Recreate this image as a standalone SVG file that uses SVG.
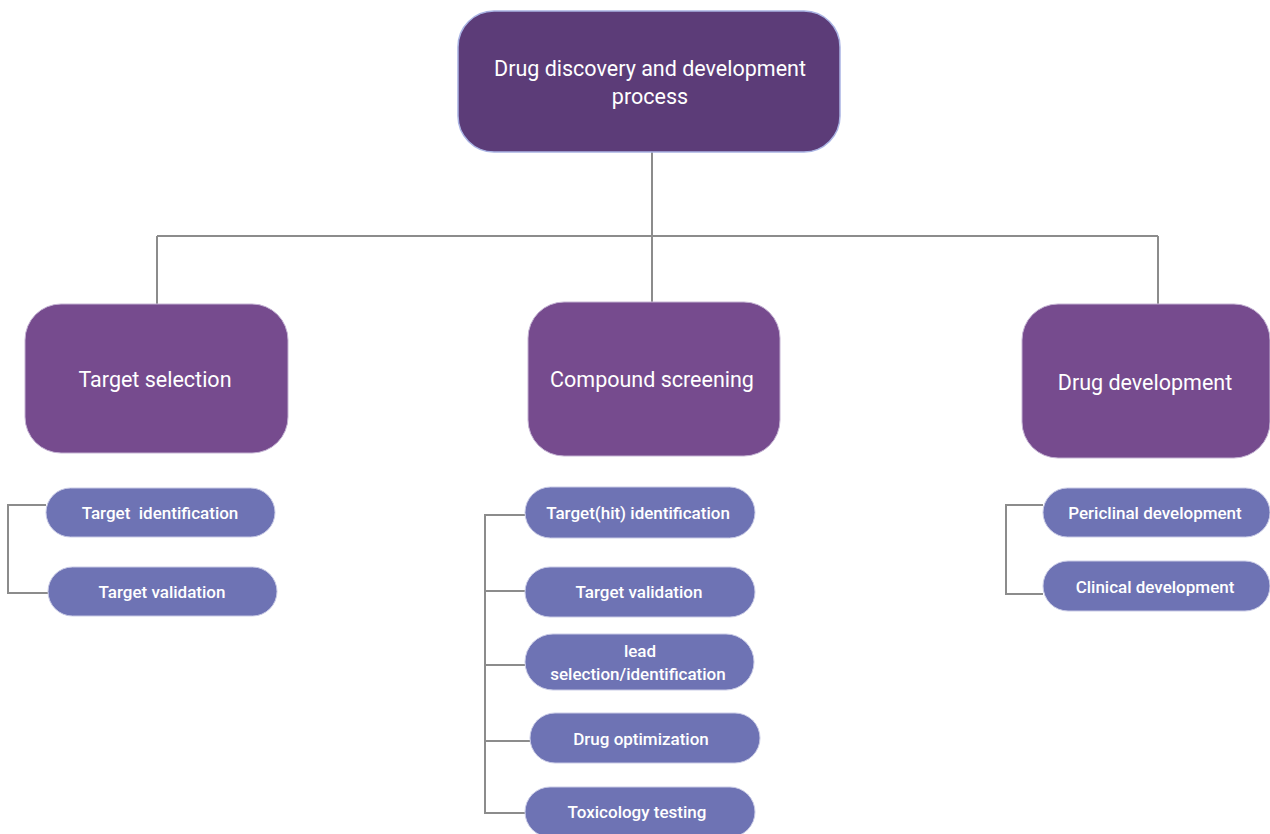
<svg xmlns="http://www.w3.org/2000/svg" width="1270" height="834" viewBox="0 0 1270 834">
<style>
text{font-family:Roboto,"Liberation Sans",sans-serif;fill:#ffffff;text-anchor:middle;dominant-baseline:central;white-space:pre}
.root{fill:#5c3c78;stroke:#a9b3e3;stroke-width:1.5}
.stage{fill:#764b8e;stroke:#c4b3d3;stroke-width:1}
.sub{fill:#6e73b4;stroke:#c9cbe6;stroke-width:1}
.big{font-size:21.5px;font-weight:400}
.small{font-size:17px;font-weight:500}
.conn{fill:none;stroke:#8c8c8c;stroke-width:2}
</style>
<rect width="1270" height="834" fill="#ffffff"/>
<g id="connectors">
<path class="conn" d="M652 152V236M157 236H1158M157 236V304M652 236V302M1158 236V304"/>
<path class="conn" d="M46 505H8V593H48"/>
<path class="conn" d="M525 515H485V813H525M485 591H525M485 665H525M485 741H530"/>
<path class="conn" d="M1043 505H1006V594H1043"/>
</g>
<g id="root">
<rect class="root" x="458" y="11" width="382" height="141" rx="36"/>
<text class="big" x="650" y="68">Drug discovery and development</text>
<text class="big" x="650" y="96">process</text>
</g>
<g id="target-selection">
<rect class="stage" x="25" y="304" width="263" height="149" rx="36"/>
<text class="big" x="155" y="379">Target selection</text>
</g>
<g id="compound-screening">
<rect class="stage" x="528" y="302" width="252" height="154" rx="36"/>
<text class="big" x="652" y="379">Compound screening</text>
</g>
<g id="drug-development">
<rect class="stage" x="1022" y="304" width="248" height="154" rx="36"/>
<text class="big" x="1145" y="382">Drug development</text>
</g>
<g id="target-identification">
<rect class="sub" x="46" y="488" width="229" height="49" rx="24.5"/>
<text class="small" x="160" y="513">Target  identification</text>
</g>
<g id="target-validation-1">
<rect class="sub" x="48" y="567" width="229" height="49" rx="24.5"/>
<text class="small" x="162" y="592">Target validation</text>
</g>
<g id="target-hit-identification">
<rect class="sub" x="525" y="487" width="230" height="51" rx="25.5"/>
<text class="small" x="638" y="513">Target(hit) identification</text>
</g>
<g id="target-validation-2">
<rect class="sub" x="525" y="567" width="230" height="50" rx="25"/>
<text class="small" x="639" y="592">Target validation</text>
</g>
<g id="lead-selection">
<rect class="sub" x="525" y="634" width="229" height="56" rx="28"/>
<text class="small" x="640" y="651">lead</text>
<text class="small" x="638" y="674">selection/identification</text>
</g>
<g id="drug-optimization">
<rect class="sub" x="530" y="713" width="230" height="50" rx="25"/>
<text class="small" x="641" y="739">Drug optimization</text>
</g>
<g id="toxicology-testing">
<rect class="sub" x="525" y="787" width="230" height="50" rx="25"/>
<text class="small" x="637" y="812">Toxicology testing</text>
</g>
<g id="periclinal-development">
<rect class="sub" x="1043" y="488" width="227" height="49" rx="24.5"/>
<text class="small" x="1155" y="513">Periclinal development</text>
</g>
<g id="clinical-development">
<rect class="sub" x="1043" y="561" width="227" height="50" rx="25"/>
<text class="small" x="1155" y="587">Clinical development</text>
</g>
</svg>
